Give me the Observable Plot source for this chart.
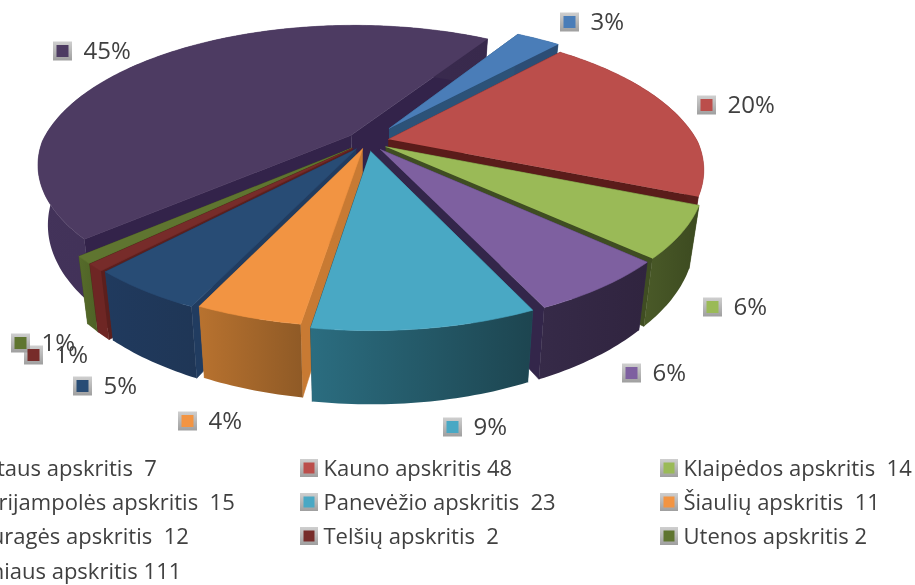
<!DOCTYPE html>
<html><head><meta charset="utf-8">
<style>html,body{margin:0;padding:0;background:#fff;overflow:hidden}svg{display:block;filter:blur(.6px)}</style>
<script src="https://cdn.jsdelivr.net/npm/d3@7"></script>
<script src="https://cdn.jsdelivr.net/npm/@observablehq/plot@0.6"></script>
</head><body><div id="chart"></div>
<script>
const legendNames = ["Alytaus apskritis  7","Kauno apskritis 48","Klaipėdos apskritis  14","Marijampolės apskritis  15","Panevėžio apskritis  23","Šiaulių apskritis  11","Tauragės apskritis  12","Telšių apskritis  2","Utenos apskritis 2","Vilniaus apskritis 111"];
const values = [7,48,14,15,23,11,12,2,2,111];
const percentLabels = ["3%","20%","6%","6%","9%","4%","5%","1%","1%","45%"];
const topColors = ["#4a7db8","#bb4e4b","#9aba57","#7e60a0","#49a8c4","#f29442","#284c75","#772c2a","#5f7530","#4d3b62"];
const wallColors = ["#2c5278","#5a1c1a","#3f4d22","#33264a","#205060","#c87a33","#213c60","#5c1f1d","#46581f","#33234a"];
const sideA = ["#2c4d75","#5a1f1d","#4a5a28","#362a48","#2b6d80","#b8722f","#203a5e","#6e2624","#566b2a","#43335a"];
const sideB = ["#2c4d75","#5a1f1d","#3c4a20","#30243f","#1d4550","#8f5a26","#1f3656","#6e2624","#4e6226","#38294c"];
const explode = [.12,.07,.07,.07,.07,.055,.065,.07,.07,.07];
const labelSwatchX = [560,697,703,622,443,178,73,24,11,53];
const labelY = [22,105,307,373,427,421,386,355,343,51];
const legendColX = [-57,300,660];
const legendRowY = [468,502,536,571];

const W=915,H=585;
const cx=367,cy=141,R=309,r=139,pBack=.24,pFront=.2,D=58,K=.97,START=31.7;
const total=d3.sum(values);
const proj=(X,Y,low)=>{const s=1/(1+(Y>0?pBack:pFront)*Y);return {x:cx+R*X*s*(low?K:1),y:cy-r*Y*s+(low?D*s:0)};};
let acc=START;
const slices=values.map((v,i)=>{const a0=acc,a1=acc+v/total*360;acc=a1;
  const mid=(a0+a1)/2*Math.PI/180;
  return {i,a0,a1,ox:explode[i]*Math.sin(mid),oy:explode[i]*Math.cos(mid),midY:Math.cos(mid),first:i===values.length-1};});
const faces=[];
slices.slice().sort((a,b)=>(b.first-a.first)||(b.midY-a.midY)).forEach(s=>{
  const rim=[];
  const n=Math.max(2,Math.ceil(s.a1-s.a0));
  for(let j=0;j<=n;j++){const t=(s.a0+(s.a1-s.a0)*j/n)*Math.PI/180;rim.push([s.ox+Math.sin(t),s.oy+Math.cos(t)]);}
  const ap=[s.ox,s.oy];
  const a=rim[0],b=rim[rim.length-1];
  const pl=(q,l)=>proj(q[0],q[1],l);
  faces.push({pts:[pl(ap,0),pl(a,0),pl(a,1),pl(ap,1)],fill:wallColors[s.i]});
  faces.push({pts:[pl(ap,0),pl(b,0),pl(b,1),pl(ap,1)],fill:wallColors[s.i]});
  faces.push({pts:[...rim.map(q=>pl(q,0)),...rim.slice().reverse().map(q=>pl(q,1))],fill:`url(#side${s.i})`});
  faces.push({pts:[pl(ap,0),...rim.map(q=>pl(q,0))],fill:topColors[s.i]});
});
const swatches=slices.map(s=>({x:labelSwatchX[s.i],y:labelY[s.i],i:s.i}));
const legend=legendNames.map((name,i)=>({name,i,x:legendColX[i%3],y:legendRowY[Math.floor(i/3)]}));
const sw=(arr,size,inner)=>Plot.rect(arr,{x1:d=>d.x+(size-inner)/2,x2:d=>d.x+(size+inner)/2,y1:d=>d.y-inner/2,y2:d=>d.y+inner/2,fill:d=>inner===size?"url(#frame)":topColors[d.i]});
const labelFont={fontFamily:"'Open Sans', sans-serif",fill:"#404040",textAnchor:"start",lineAnchor:"middle"};
const plot=Plot.plot({width:W,height:H,margin:0,
  x:{domain:[0,W],range:[0,W],axis:null},y:{domain:[0,H],range:[0,H],axis:null},
  color:{type:"identity"},
  marks:[
   ...faces.map(f=>Plot.line(f.pts,{x:"x",y:"y",fill:f.fill,stroke:f.fill.startsWith("url")?"none":f.fill,strokeWidth:.6})),
   sw(swatches,19,19),sw(swatches,19,12),
   Plot.text(swatches,{x:d=>d.x+30,y:"y",text:d=>percentLabels[d.i],fontSize:24,...labelFont}),
   sw(legend,18,18),sw(legend,18,11),
   Plot.text(legend,{x:d=>d.x+23,y:"y",text:"name",fontSize:22,...labelFont})
  ]});
const defs=d3.select(plot).insert("defs",":first-child");
const grad=(id,a,b,x2,y2)=>{const g=defs.append("linearGradient").attr("id",id).attr("x1",0).attr("y1",0).attr("x2",x2).attr("y2",y2);
  g.append("stop").attr("offset",0).attr("stop-color",a);g.append("stop").attr("offset",1).attr("stop-color",b);};
values.forEach((_,i)=>grad("side"+i,sideA[i],sideB[i],1,0));
grad("frame","#cfcfcf","#9f9f9f",0,1);
document.getElementById("chart").append(plot);
</script></body></html>
